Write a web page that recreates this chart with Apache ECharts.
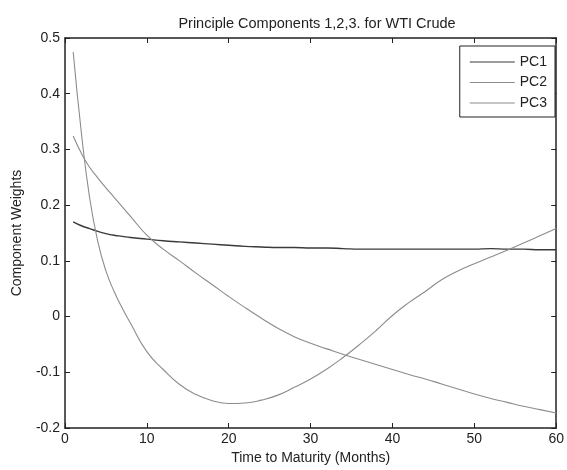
<!DOCTYPE html>
<html><head><meta charset="utf-8">
<script src="https://cdn.jsdelivr.net/npm/echarts@6/dist/echarts.min.js"></script>
<style>html,body{margin:0;padding:0;background:#fff}#c{width:567px;height:470px}</style>
</head><body><div id="c"></div>
<script>
const months = [1,2,3,4,5,6,7,8,10,12,14,16,18,20,22,24,26,28,30,32,34,36,38,40,42,44,46,48,50,52,54,56,58,60];
const pc1 = [0.170,0.163,0.158,0.153,0.149,0.146,0.144,0.142,0.139,0.136,0.134,0.132,0.130,0.128,0.126,0.125,0.124,0.124,0.123,0.123,0.122,0.121,0.121,0.121,0.121,0.121,0.121,0.121,0.121,0.122,0.121,0.121,0.120,0.120];
const pc2 = [0.324,0.293,0.268,0.249,0.231,0.214,0.197,0.180,0.146,0.121,0.100,0.078,0.057,0.036,0.016,-0.003,-0.021,-0.036,-0.048,-0.058,-0.068,-0.077,-0.086,-0.095,-0.104,-0.112,-0.121,-0.130,-0.139,-0.147,-0.154,-0.161,-0.167,-0.173];
const pc3 = [0.475,0.330,0.214,0.135,0.082,0.045,0.015,-0.012,-0.063,-0.095,-0.122,-0.140,-0.151,-0.156,-0.155,-0.150,-0.141,-0.127,-0.112,-0.094,-0.073,-0.050,-0.025,0.002,0.025,0.045,0.066,0.082,0.095,0.107,0.119,0.132,0.145,0.158];
const xTicks = [0,10,20,30,40,50,60];
const yTicks = [-0.2,-0.1,0,0.1,0.2,0.3,0.4,0.5];

const font = 'Liberation Sans, Arial, sans-serif';
const axisColor = '#222';
const chart = echarts.init(document.getElementById('c'));
function pairs(v){ return months.map((m,i)=>[m,v[i]]); }
const common = {type:'line', showSymbol:false, symbol:'none', smooth:true};
const tick = {show:true, inside:true, length:5, lineStyle:{color:axisColor}};
chart.setOption({
  animation:false,
  backgroundColor:'#fff',
  title:{text:'Principle Components 1,2,3. for WTI Crude', left:312, textAlign:'center', top:11,
    textStyle:{fontFamily:font, fontSize:14.5, fontWeight:'normal', color:'#222'}},
  grid:{left:65, right:8, top:38, bottom:42},
  legend:{orient:'vertical', right:12, top:46, icon:'rect', itemWidth:45, itemHeight:1, itemGap:6.5,
    borderColor:'#222', borderWidth:1, backgroundColor:'#fff', padding:[9,8,7,10],
    textStyle:{fontFamily:font, fontSize:14, color:'#222', lineHeight:14},
    data:['PC1','PC2','PC3']},
  xAxis:[{type:'value', min:0, max:60, interval:10,
    name:'Time to Maturity (Months)', nameLocation:'middle', nameGap:22,
    nameTextStyle:{fontFamily:font, fontSize:14, color:'#222'},
    axisLine:{onZero:false, lineStyle:{color:axisColor, width:1.5}},
    axisTick:tick,
    axisLabel:{fontFamily:font, fontSize:14, color:'#222', margin:4},
    splitLine:{show:false}},
   {type:'value', position:'top', min:0, max:60, interval:10,
    axisLine:{show:true, onZero:false, lineStyle:{color:axisColor, width:1.5}},
    axisTick:tick, axisLabel:{show:false}, splitLine:{show:false}}],
  yAxis:[{type:'value', min:-0.2, max:0.5, interval:0.1,
    name:'Component Weights', nameLocation:'middle', nameGap:41,
    nameTextStyle:{fontFamily:font, fontSize:14, color:'#222'},
    axisLine:{show:true, onZero:false, lineStyle:{color:axisColor, width:1.5}},
    axisTick:tick,
    axisLabel:{fontFamily:font, fontSize:14, color:'#222', margin:5,
      formatter:v=>{const r=Math.round(v*10)/10; return r===0?'0':r.toFixed(1);}},
    splitLine:{show:false}},
   {type:'value', position:'right', min:-0.2, max:0.5, interval:0.1,
    axisLine:{show:true, onZero:false, lineStyle:{color:axisColor, width:1.5}},
    axisTick:tick, axisLabel:{show:false}, splitLine:{show:false}}],
  series:[
    Object.assign({}, common, {name:'PC1', data:pairs(pc1), color:'#3a3a3a', lineStyle:{width:1.4, color:'#3a3a3a'}}),
    Object.assign({}, common, {name:'PC2', data:pairs(pc2), color:'#8c8c8c', lineStyle:{width:1.1, color:'#8c8c8c'}}),
    Object.assign({}, common, {name:'PC3', data:pairs(pc3), color:'#8c8c8c', lineStyle:{width:1.1, color:'#8c8c8c'}})
  ]
});
</script></body></html>
